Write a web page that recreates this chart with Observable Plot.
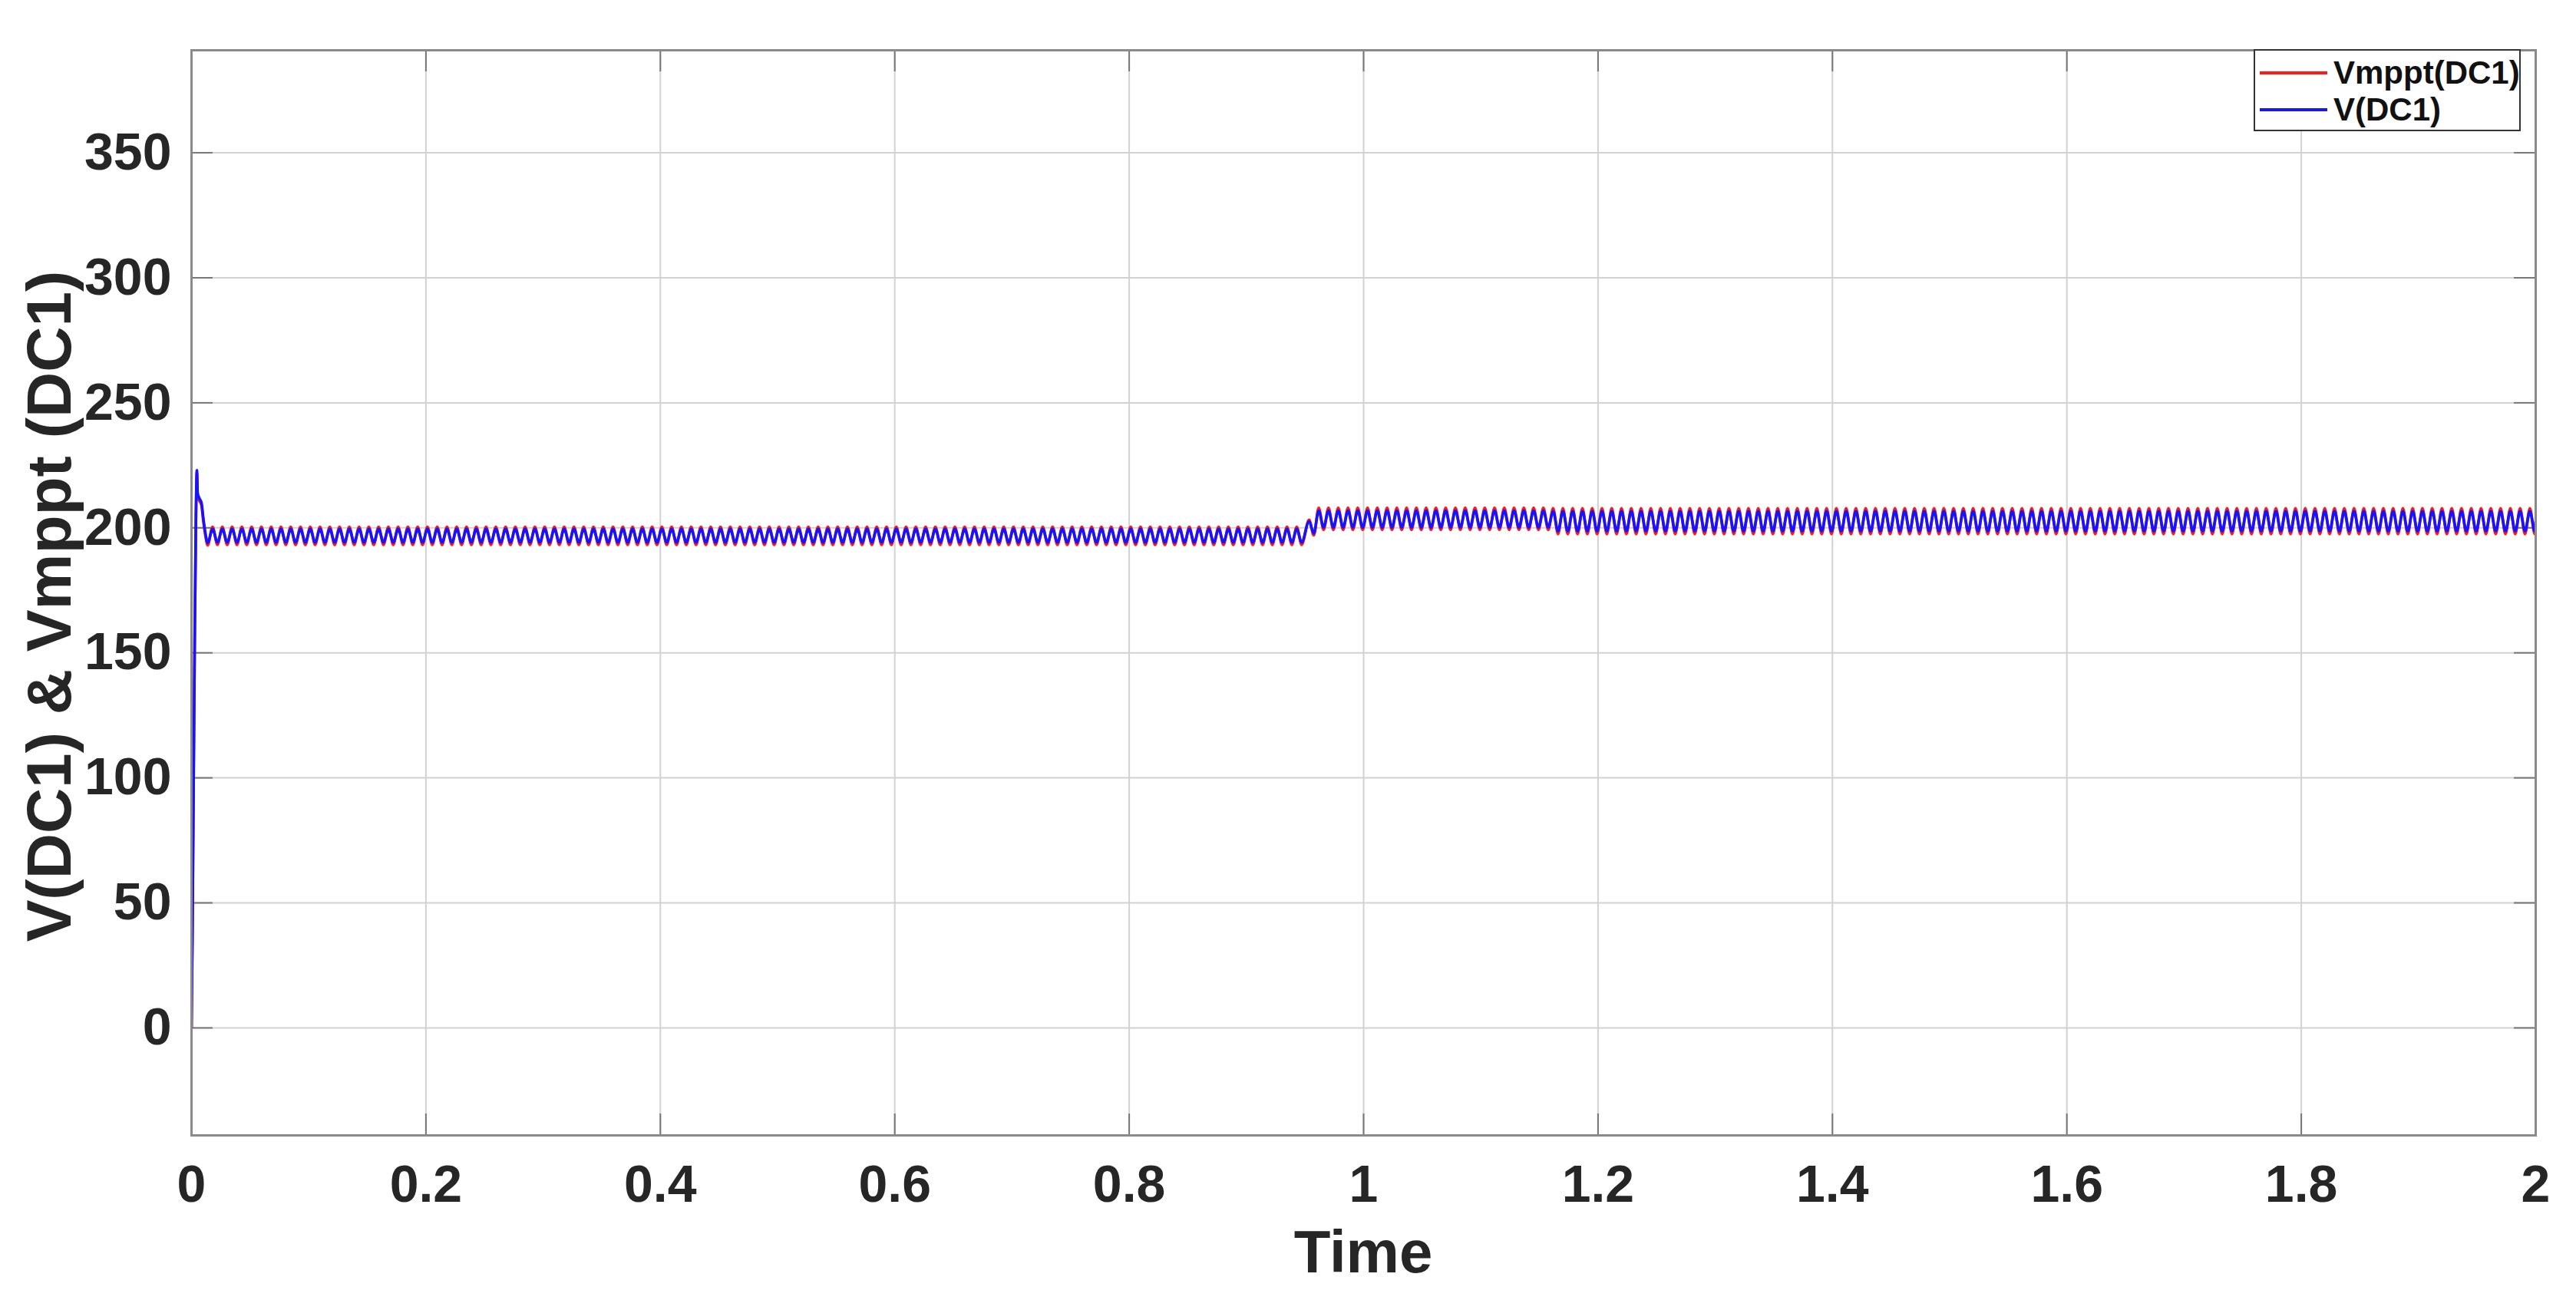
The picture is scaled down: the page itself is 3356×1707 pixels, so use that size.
<!DOCTYPE html>
<html>
<head>
<meta charset="utf-8">
<script src="https://cdn.jsdelivr.net/npm/d3@7"></script>
<script src="https://cdn.jsdelivr.net/npm/@observablehq/plot@0.6"></script>
<style>
  html, body { margin: 0; padding: 0; background: #fff; }
  #wrap { position: relative; width: 3356px; height: 1707px; font-family: "Liberation Sans", Arial, sans-serif; overflow: hidden; }
  #legend { position: absolute; left: 2936px; top: 64px; width: 344px; height: 103px; background: #fff; border: 2px solid #333; box-sizing: content-box; }
  #legend .row { position: absolute; left: 6px; height: 46px; display: flex; align-items: center; }
  #legend .sw { width: 88px; height: 4px; margin-right: 8px; }
  #legend .lb { font-size: 42px; font-weight: bold; color: #111; line-height: 46px; }
  .axtitle { position: absolute; font-weight: bold; color: #262626; white-space: nowrap; line-height: 1; transform-origin: center center; }
  #ylab { left: 64px; top: 790px; font-size: 82px; transform: translate(-50%, -50%) rotate(-90deg); }
  #xlab { left: 1776px; top: 1631px; font-size: 78px; transform: translate(-50%, -50%); }
</style>
</head>
<body>
<div id="wrap">
  <div id="chart"></div>
  <div id="ylab" class="axtitle"></div>
  <div id="xlab" class="axtitle"></div>
  <div id="legend"></div>
</div>
<script>
// ---- tick values ----
const xTicks = [0, 0.2, 0.4, 0.6, 0.8, 1, 1.2, 1.4, 1.6, 1.8, 2];
const yTicks = [0, 50, 100, 150, 200, 250, 300, 350];
const xDomain = [0, 2];
const yDomain = [-43, 391];
const xTitle = "Time";
const yTitle = "V(DC1) & Vmppt (DC1)";

// ---- series names / colours ----
const seriesNames = ["Vmppt(DC1)", "V(DC1)"];
const seriesColors = ["#ff1a1a", "#1414ff"];

// ---- start-up transient ----
const startT = [0, 0.0008, 0.0018, 0.0028, 0.0038, 0.0046, 0.0052, 0.0065, 0.0085, 0.0100, 0.0118, 0.0138];
const startV = [0, 40, 100, 160, 205, 223, 214, 212, 210, 204, 198, 194];
const startM = [0, 40, 100, 160, 205, 222, 213, 211, 209, 203, 197, 193];

// ---- ripple segments (levels) ----
const ripplePeriod = 1 / 120;               // ~12.7 px per cycle in the picture
const segT0 = [0.0138, 0.9617, 1.16];
const segT1 = [0.9496, 1.16, 1.9995];
const vPeak = [199.5, 206.8, 206.6];
const vTrough = [194.2, 200.2, 198.7];
const mPeak = [200.4, 208.0, 207.8];
const mTrough = [193.2, 199.2, 197.5];

// ---- step at t ~ 0.95 ----
const transT = [0.9535, 0.9575];
const transV = [202.6, 197.8];
const transM = [203.2, 197.0];

// ---- final sample ----
const endT = [2];
const endV = [202.5];
const endM = [202.5];

function build(sv, peaks, troughs, tv, ev) {
  const pts = startT.map((t, i) => ({t, v: sv[i]}));
  const h = ripplePeriod / 2;
  let t = segT0[0] + h, hi = true;
  while (t <= segT1[0]) { pts.push({t, v: hi ? peaks[0] : troughs[0]}); hi = !hi; t += h; }
  transT.forEach((tt, i) => pts.push({t: tt, v: tv[i]}));
  t = segT0[1]; hi = true;
  for (let s = 1; s < segT0.length; s++) {
    while (t <= segT1[s]) { pts.push({t, v: hi ? peaks[s] : troughs[s]}); hi = !hi; t += h; }
  }
  endT.forEach((tt, i) => pts.push({t: tt, v: ev[i]}));
  return pts;
}

const blueData = build(startV, vPeak, vTrough, transV, endV);
const redData = build(startM, mPeak, mTrough, transM, endM);

const tickLenX = 0.0183;   // inner tick length along x (data units)
const tickLenY = 8.6;      // inner tick length along y (data units)
const textColor = "#262626";

const chart = Plot.plot({
  width: 3356,
  height: 1707,
  marginLeft: 249,
  marginRight: 53,
  marginTop: 65,
  marginBottom: 228,
  style: {fontFamily: "'Liberation Sans', Arial, sans-serif", background: "#fff"},
  x: {domain: xDomain},
  y: {domain: yDomain},
  marks: [
    Plot.gridX(xTicks, {stroke: "#d2d2d2", strokeOpacity: 1, strokeWidth: 2}),
    Plot.gridY(yTicks, {stroke: "#d2d2d2", strokeOpacity: 1, strokeWidth: 2}),
    Plot.ruleY(yTicks, {x1: xDomain[0], x2: xDomain[0] + tickLenX, stroke: "#777", strokeWidth: 2}),
    Plot.ruleY(yTicks, {x1: xDomain[1] - tickLenX, x2: xDomain[1], stroke: "#777", strokeWidth: 2}),
    Plot.ruleX(xTicks, {y1: yDomain[0], y2: yDomain[0] + tickLenY, stroke: "#777", strokeWidth: 2}),
    Plot.ruleX(xTicks, {y1: yDomain[1] - tickLenY, y2: yDomain[1], stroke: "#777", strokeWidth: 2}),
    Plot.line(redData, {x: "t", y: "v", stroke: seriesColors[0], strokeWidth: 3.6, curve: "monotone-x", clip: true}),
    Plot.line(blueData, {x: "t", y: "v", stroke: seriesColors[1], strokeWidth: 3.6, curve: "monotone-x", clip: true}),
    Plot.frame({stroke: "#8a8a8a", strokeWidth: 3}),
    Plot.axisX(xTicks, {tickSize: 0, tickPadding: 38, fontSize: 68, fontWeight: "bold", color: textColor, label: null, tickFormat: d => String(d)}),
    Plot.axisY(yTicks, {tickSize: 0, tickPadding: 26, fontSize: 68, fontWeight: "bold", color: textColor, label: null, tickFormat: d => String(d)})
  ]
});
document.getElementById("chart").appendChild(chart);

document.getElementById("xlab").textContent = xTitle;
document.getElementById("ylab").textContent = yTitle;

// legend
const legend = document.getElementById("legend");
seriesNames.forEach((name, i) => {
  const row = document.createElement("div");
  row.className = "row";
  row.style.top = (6 + i * 48) + "px";
  const sw = document.createElement("div");
  sw.className = "sw";
  sw.style.background = seriesColors[i];
  const lb = document.createElement("span");
  lb.className = "lb";
  lb.textContent = name;
  row.appendChild(sw);
  row.appendChild(lb);
  legend.appendChild(row);
});
</script>
</body>
</html>
